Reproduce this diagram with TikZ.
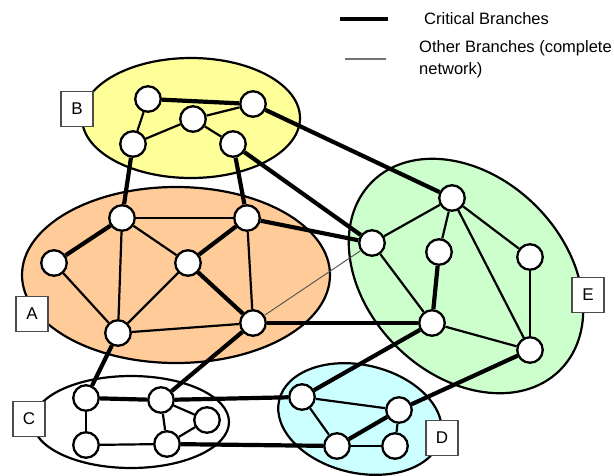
\documentclass[tikz,border=0pt]{standalone}
\usepackage{fontspec}
\setmainfont{Liberation Sans}
\usepackage{tikz}
\tikzset{
  bus/.style={circle, draw, line width=2.3pt, fill=white, minimum size=25.5pt, inner sep=0pt},
  zone/.style={draw, line width=2.2pt},
  zonelabel/.style={rectangle, draw=black!70, line width=1.8pt, fill=white, minimum width=32pt, minimum height=35pt, inner sep=0pt, font=\fontsize{17}{20}\selectfont},
  critical/.style={line width=4.2pt},
  branch/.style={line width=2.2pt},
}
\definecolor{zoneA}{HTML}{FFCC99}
\definecolor{zoneB}{HTML}{FFFF99}
\definecolor{zoneD}{HTML}{CCFFFF}
\definecolor{zoneE}{HTML}{CCFFCC}
\begin{document}
\begin{tikzpicture}[x=1pt, y=-1pt, font=\fontsize{16.5}{22}\selectfont]
  \tikzset{
    otherbranch/.style={line width=1pt, draw=black!65},
    legendtext/.style={anchor=west, inner sep=0pt, align=left},
  }
  \useasboundingbox (0,0) rectangle (614,475);
  \clip (0,0) rectangle (614,475);

  % Zones
  \draw[zone, fill=zoneB] (191,118) ellipse [x radius=109, y radius=60];
  \draw[zone, fill=zoneA] (176,275) ellipse [x radius=154, y radius=88];
  \draw[zone, fill=zoneE, rotate around={-45:(466,276)}] (466,276) ellipse [x radius=133, y radius=99];
  \draw[zone, fill=white] (131,422) ellipse [x radius=98, y radius=46];
  \draw[zone, fill=zoneD, rotate around={-13:(360,419)}] (360,419) ellipse [x radius=83, y radius=54];

  % Zone B
  \node[bus] (b1) at (148,99) {};
  \node[bus] (b2) at (253,104) {};
  \node[bus] (b3) at (193,119) {};
  \node[bus] (b4) at (133,144) {};
  \node[bus] (b5) at (233,144) {};

  % Zone A
  \node[bus] (a1) at (122,218) {};
  \node[bus] (a2) at (247,218) {};
  \node[bus] (a3) at (54,263) {};
  \node[bus] (a4) at (188,263) {};
  \node[bus] (a5) at (118,333) {};
  \node[bus] (a6) at (253,323) {};

  % Zone E
  \node[bus] (e1) at (452,198) {};
  \node[bus] (e2) at (372,243) {};
  \node[bus] (e3) at (439,252) {};
  \node[bus] (e4) at (530,257) {};
  \node[bus] (e5) at (432,323) {};
  \node[bus] (e6) at (530,350) {};

  % Zone C
  \node[bus] (c1) at (86,398) {};
  \node[bus] (c2) at (161,400) {};
  \node[bus] (c3) at (207,420) {};
  \node[bus] (c4) at (86,445) {};
  \node[bus] (c5) at (167,444) {};

  % Zone D
  \node[bus] (d1) at (302,397) {};
  \node[bus] (d2) at (399,410) {};
  \node[bus] (d3) at (337,446) {};
  \node[bus] (d4) at (395,446) {};

  % Other branches
  \draw[branch] (b1) -- (b4);
  \draw[branch] (b4) -- (b3);
  \draw[branch] (b3) -- (b2);
  \draw[branch] (b3) -- (b5);
  \draw[branch] (a1) -- (a2);
  \draw[branch] (a1) -- (a5);
  \draw[branch] (a1) -- (a4);
  \draw[branch] (a3) -- (a5);
  \draw[branch] (a4) -- (a5);
  \draw[branch] (a2) -- (a6);
  \draw[branch] (a5) -- (a6);
  \draw[branch] (e1) -- (e2);
  \draw[branch] (e1) -- (e3);
  \draw[branch] (e1) -- (e4);
  \draw[branch] (e1) -- (e6);
  \draw[branch] (e2) -- (e5);
  \draw[branch] (e4) -- (e6);
  \draw[branch] (e5) -- (e6);
  \draw[branch] (c1) -- (c4);
  \draw[branch] (c4) -- (c5);
  \draw[branch] (c2) -- (c3);
  \draw[branch] (c3) -- (c5);
  \draw[branch] (c2) -- (c5);
  \draw[branch] (d1) -- (d2);
  \draw[branch] (d1) -- (d3);
  \draw[branch] (d2) -- (d4);
  \draw[branch] (d3) -- (d4);
  \draw[otherbranch] (a6) -- (e2);

  % Critical branches
  \draw[critical] (b1) -- (b2);
  \draw[critical] (b2) -- (e1);
  \draw[critical] (b5) -- (e2);
  \draw[critical] (b4) -- (a1);
  \draw[critical] (b5) -- (a2);
  \draw[critical] (a1) -- (a3);
  \draw[critical] (a4) -- (a2);
  \draw[critical] (a4) -- (a6);
  \draw[critical] (a2) -- (e2);
  \draw[critical] (a6) -- (e5);
  \draw[critical] (a5) -- (c1);
  \draw[critical] (a6) -- (c2);
  \draw[critical] (e3) -- (e5);
  \draw[critical] (e5) -- (d1);
  \draw[critical] (e6) -- (d2);
  \draw[critical] (c1) -- (c2);
  \draw[critical] (c2) -- (d1);
  \draw[critical] (c5) -- (d3);
  \draw[critical] (d3) -- (d2);

  % Zone labels
  \node[zonelabel] (labB) at (77,109) {B};
  \node[zonelabel] (labA) at (32,314) {A};
  \node[zonelabel] (labE) at (588,295) {E};
  \node[zonelabel] (labC) at (29,419) {C};
  \node[zonelabel] (labD) at (442,438) {D};

  % Legend
  \coordinate (critL) at (340,19);
  \coordinate (critR) at (388,19);
  \coordinate (otherL) at (345,59);
  \coordinate (otherR) at (386,59);
  \draw[critical, line width=3.8pt] (critL) -- (critR);
  \draw[line width=1.8pt, draw=black!55] (otherL) -- (otherR);
  \node[legendtext] (critText) at (424,19) {Critical Branches};
  \node[legendtext] (otherText) at (419,59) {Other Branches (complete\\network)};
\end{tikzpicture}
\end{document}
